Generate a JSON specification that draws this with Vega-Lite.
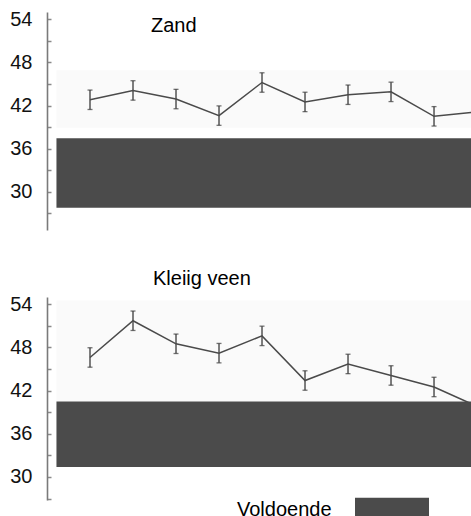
{
  "$schema": "https://vega.github.io/schema/vega-lite/v6.json",
  "background": "white",
  "padding": {"left": 9, "top": 9, "right": 0, "bottom": 0},
  "spacing": 67,
  "bounds": "flush",
  "resolve": {"scale": {"x": "independent", "y": "independent", "color": "shared"}, "legend": {"color": "shared"}},
  "config": {
    "view": {"stroke": null},
    "font": "Liberation Sans",
    "axisY": {"title": null, "grid": false, "domainColor": "#7a7a7a", "domainWidth": 1.6, "tickColor": "#8a8a8a", "tickSize": -4, "tickWidth": 1.5, "labelPadding": 19, "labelFontSize": 20, "labelFont": "Liberation Sans", "labelColor": "#111111"}
  },
  "datasets": {
    "zand": [
      {"i": 1, "v": 42.8, "lo": 41.45, "hi": 44.15},
      {"i": 2, "v": 44.1, "lo": 42.75, "hi": 45.45},
      {"i": 3, "v": 42.9, "lo": 41.55, "hi": 44.25},
      {"i": 4, "v": 40.6, "lo": 39.25, "hi": 41.95},
      {"i": 5, "v": 45.2, "lo": 43.85, "hi": 46.55},
      {"i": 6, "v": 42.5, "lo": 41.15, "hi": 43.85},
      {"i": 7, "v": 43.5, "lo": 42.15, "hi": 44.85},
      {"i": 8, "v": 43.9, "lo": 42.55, "hi": 45.25},
      {"i": 9, "v": 40.5, "lo": 39.15, "hi": 41.85},
      {"i": 10, "v": 41.1, "lo": 39.75, "hi": 42.45}
    ],
    "klei": [
      {"i": 1, "v": 46.6, "lo": 45.25, "hi": 47.95},
      {"i": 2, "v": 51.7, "lo": 50.35, "hi": 53.05},
      {"i": 3, "v": 48.5, "lo": 47.15, "hi": 49.85},
      {"i": 4, "v": 47.2, "lo": 45.85, "hi": 48.55},
      {"i": 5, "v": 49.6, "lo": 48.25, "hi": 50.95},
      {"i": 6, "v": 43.4, "lo": 42.05, "hi": 44.75},
      {"i": 7, "v": 45.7, "lo": 44.35, "hi": 47.05},
      {"i": 8, "v": 44.1, "lo": 42.75, "hi": 45.45},
      {"i": 9, "v": 42.5, "lo": 41.15, "hi": 43.85},
      {"i": 10, "v": 39.8, "lo": 38.45, "hi": 41.15}
    ],
    "zandband": [{"x1": 0.22, "x2": 12, "b1": 38.9, "b2": 46.9, "y1": 27.8, "y2": 37.46, "cat": "Voldoende"}],
    "kleiband": [{"x1": 0.22, "x2": 12, "b1": 40.5, "b2": 54.5, "y1": 31.4, "y2": 40.5, "cat": "Voldoende"}]
  },
  "vconcat": [
    {
      "width": 424,
      "height": 218,
      "title": {"text": "Zand", "anchor": "start", "frame": "group", "dx": 104, "offset": -43, "baseline": "alphabetic", "fontSize": 20, "fontWeight": "normal", "font": "Liberation Sans", "color": "#000000"},
      "layer": [
        {
          "data": {"name": "zandband"},
          "mark": {"type": "rect", "color": "#fafafa", "clip": true},
          "encoding": {
            "x": {"field": "x1", "type": "quantitative", "scale": {"domain": [0, 9.86], "nice": false, "zero": false}, "axis": null},
            "x2": {"field": "x2"},
            "y": {"field": "b1", "type": "quantitative", "scale": {"domain": [24.7, 55], "nice": false, "zero": false}, "axis": {"values": [27, 30, 33, 36, 39, 42, 45, 48, 51, 54], "labelExpr": "datum.value % 6 == 0 ? datum.label : ''"}},
            "y2": {"field": "b2"}
          }
        },
        {
          "data": {"name": "zandband"},
          "mark": {"type": "rect", "clip": true},
          "encoding": {
            "x": {"field": "x1", "type": "quantitative", "scale": {"domain": [0, 9.86], "nice": false, "zero": false}, "axis": null},
            "x2": {"field": "x2"},
            "y": {"field": "y1", "type": "quantitative", "scale": {"domain": [24.7, 55], "nice": false, "zero": false}, "axis": {"values": [27, 30, 33, 36, 39, 42, 45, 48, 51, 54], "labelExpr": "datum.value % 6 == 0 ? datum.label : ''"}},
            "y2": {"field": "y2"},
            "color": {"field": "cat", "type": "nominal", "scale": {"range": ["#4b4b4b"]}, "legend": {"title": "Voldoende", "titleOrient": "left", "orient": "none", "legendX": 190, "legendY": 479, "labelExpr": "''", "labelFontSize": 1, "symbolType": "M-1,-0.815L1,-0.815L1,0L-1,0Z", "symbolSize": 5476, "symbolStrokeWidth": 0, "symbolOpacity": 1, "titlePadding": 23, "titleFontSize": 20, "titleFontWeight": "normal", "titleFont": "Liberation Sans", "titleColor": "#000000", "titleBaseline": "middle"}}
          }
        },
        {
          "data": {"name": "zand"},
          "mark": {"type": "rule", "color": "#3a3a3a", "strokeWidth": 1.3, "clip": true},
          "encoding": {
            "x": {"field": "i", "type": "quantitative", "scale": {"domain": [0, 9.86], "nice": false, "zero": false}, "axis": null},
            "y": {"field": "lo", "type": "quantitative", "scale": {"domain": [24.7, 55], "nice": false, "zero": false}, "axis": {"values": [27, 30, 33, 36, 39, 42, 45, 48, 51, 54], "labelExpr": "datum.value % 6 == 0 ? datum.label : ''"}},
            "y2": {"field": "hi"}
          }
        },
        {
          "data": {"name": "zand"},
          "mark": {"type": "tick", "orient": "horizontal", "color": "#3a3a3a", "size": 5, "thickness": 1.3, "clip": true},
          "encoding": {
            "x": {"field": "i", "type": "quantitative", "scale": {"domain": [0, 9.86], "nice": false, "zero": false}, "axis": null},
            "y": {"field": "lo", "type": "quantitative", "scale": {"domain": [24.7, 55], "nice": false, "zero": false}, "axis": {"values": [27, 30, 33, 36, 39, 42, 45, 48, 51, 54], "labelExpr": "datum.value % 6 == 0 ? datum.label : ''"}}
          }
        },
        {
          "data": {"name": "zand"},
          "mark": {"type": "tick", "orient": "horizontal", "color": "#3a3a3a", "size": 5, "thickness": 1.3, "clip": true},
          "encoding": {
            "x": {"field": "i", "type": "quantitative", "scale": {"domain": [0, 9.86], "nice": false, "zero": false}, "axis": null},
            "y": {"field": "hi", "type": "quantitative", "scale": {"domain": [24.7, 55], "nice": false, "zero": false}, "axis": {"values": [27, 30, 33, 36, 39, 42, 45, 48, 51, 54], "labelExpr": "datum.value % 6 == 0 ? datum.label : ''"}}
          }
        },
        {
          "data": {"name": "zand"},
          "mark": {"type": "line", "color": "#4a4a4a", "strokeWidth": 1.5, "clip": true},
          "encoding": {
            "x": {"field": "i", "type": "quantitative", "scale": {"domain": [0, 9.86], "nice": false, "zero": false}, "axis": null},
            "y": {"field": "v", "type": "quantitative", "scale": {"domain": [24.7, 55], "nice": false, "zero": false}, "axis": {"values": [27, 30, 33, 36, 39, 42, 45, 48, 51, 54], "labelExpr": "datum.value % 6 == 0 ? datum.label : ''"}}
          }
        }
      ]
    },
    {
      "width": 424,
      "height": 203,
      "title": {"text": "Kleiig veen", "anchor": "start", "frame": "group", "dx": 106, "offset": -11, "baseline": "alphabetic", "fontSize": 20, "fontWeight": "normal", "font": "Liberation Sans", "color": "#000000"},
      "layer": [
        {
          "data": {"name": "kleiband"},
          "mark": {"type": "rect", "color": "#fafafa", "clip": true},
          "encoding": {
            "x": {"field": "x1", "type": "quantitative", "scale": {"domain": [0, 9.86], "nice": false, "zero": false}, "axis": null},
            "x2": {"field": "x2"},
            "y": {"field": "b1", "type": "quantitative", "scale": {"domain": [26.8, 55], "nice": false, "zero": false}, "axis": {"values": [27, 30, 33, 36, 39, 42, 45, 48, 51, 54], "labelExpr": "datum.value % 6 == 0 ? datum.label : ''"}},
            "y2": {"field": "b2"}
          }
        },
        {
          "data": {"name": "kleiband"},
          "mark": {"type": "rect", "clip": true},
          "encoding": {
            "x": {"field": "x1", "type": "quantitative", "scale": {"domain": [0, 9.86], "nice": false, "zero": false}, "axis": null},
            "x2": {"field": "x2"},
            "y": {"field": "y1", "type": "quantitative", "scale": {"domain": [26.8, 55], "nice": false, "zero": false}, "axis": {"values": [27, 30, 33, 36, 39, 42, 45, 48, 51, 54], "labelExpr": "datum.value % 6 == 0 ? datum.label : ''"}},
            "y2": {"field": "y2"},
            "color": {"field": "cat", "type": "nominal", "scale": {"range": ["#4b4b4b"]}}
          }
        },
        {
          "data": {"name": "klei"},
          "mark": {"type": "rule", "color": "#3a3a3a", "strokeWidth": 1.3, "clip": true},
          "encoding": {
            "x": {"field": "i", "type": "quantitative", "scale": {"domain": [0, 9.86], "nice": false, "zero": false}, "axis": null},
            "y": {"field": "lo", "type": "quantitative", "scale": {"domain": [26.8, 55], "nice": false, "zero": false}, "axis": {"values": [27, 30, 33, 36, 39, 42, 45, 48, 51, 54], "labelExpr": "datum.value % 6 == 0 ? datum.label : ''"}},
            "y2": {"field": "hi"}
          }
        },
        {
          "data": {"name": "klei"},
          "mark": {"type": "tick", "orient": "horizontal", "color": "#3a3a3a", "size": 5, "thickness": 1.3, "clip": true},
          "encoding": {
            "x": {"field": "i", "type": "quantitative", "scale": {"domain": [0, 9.86], "nice": false, "zero": false}, "axis": null},
            "y": {"field": "lo", "type": "quantitative", "scale": {"domain": [26.8, 55], "nice": false, "zero": false}, "axis": {"values": [27, 30, 33, 36, 39, 42, 45, 48, 51, 54], "labelExpr": "datum.value % 6 == 0 ? datum.label : ''"}}
          }
        },
        {
          "data": {"name": "klei"},
          "mark": {"type": "tick", "orient": "horizontal", "color": "#3a3a3a", "size": 5, "thickness": 1.3, "clip": true},
          "encoding": {
            "x": {"field": "i", "type": "quantitative", "scale": {"domain": [0, 9.86], "nice": false, "zero": false}, "axis": null},
            "y": {"field": "hi", "type": "quantitative", "scale": {"domain": [26.8, 55], "nice": false, "zero": false}, "axis": {"values": [27, 30, 33, 36, 39, 42, 45, 48, 51, 54], "labelExpr": "datum.value % 6 == 0 ? datum.label : ''"}}
          }
        },
        {
          "data": {"name": "klei"},
          "mark": {"type": "line", "color": "#4a4a4a", "strokeWidth": 1.5, "clip": true},
          "encoding": {
            "x": {"field": "i", "type": "quantitative", "scale": {"domain": [0, 9.86], "nice": false, "zero": false}, "axis": null},
            "y": {"field": "v", "type": "quantitative", "scale": {"domain": [26.8, 55], "nice": false, "zero": false}, "axis": {"values": [27, 30, 33, 36, 39, 42, 45, 48, 51, 54], "labelExpr": "datum.value % 6 == 0 ? datum.label : ''"}}
          }
        }
      ]
    }
  ]
}
